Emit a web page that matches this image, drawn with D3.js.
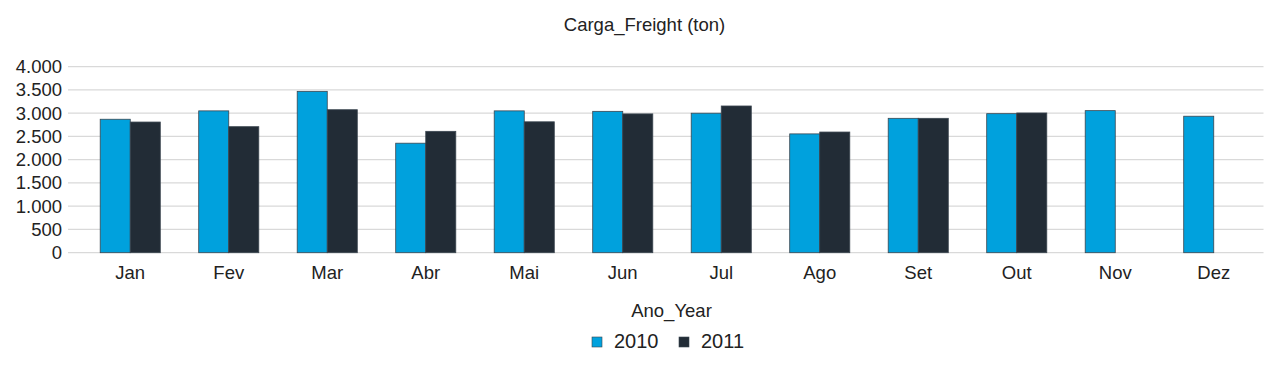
<!DOCTYPE html>
<html><head><meta charset="utf-8">
<script src="https://cdn.jsdelivr.net/npm/d3@7"></script>
<style>body{margin:0;background:#fff}svg{display:block;font-family:"Liberation Sans",Arial,sans-serif}</style>
</head><body><svg id="c" width="1281" height="371"></svg>
<script>
const months = ["Jan","Fev","Mar","Abr","Mai","Jun","Jul","Ago","Set","Out","Nov","Dez"];
const years = ["2010","2011"];
const values2010 = [2870,3050,3470,2355,3050,3040,3000,2555,2890,2990,3055,2935];
const values2011 = [2810,2710,3075,2610,2815,2985,3155,2595,2890,3005,null,null];
const yTicks = [0,500,1000,1500,2000,2500,3000,3500,4000];
const colors = ["#00a1dd","#222c36"];

const svg = d3.select("#c");
const x = d3.scaleBand().domain(months).range([81,1263]).paddingInner(0.39).paddingOuter(0.195);
const xs = d3.scaleBand().domain(years).range([0,x.bandwidth()]);
const y = d3.scaleLinear().domain([0,4000]).range([252.7,66.7]);
const fmt = v => d3.format(",")(v).replace(/,/g,".");

// grid
svg.append("g").selectAll("line").data(yTicks).join("line")
  .attr("x1",68).attr("x2",1263.5).attr("y1",d=>y(d)).attr("y2",d=>y(d))
  .attr("stroke","#d9d9d9").attr("stroke-width",1.3);

// y labels
svg.append("g").selectAll("text").data(yTicks).join("text")
  .attr("x",62).attr("y",d=>y(d)+6.5).attr("text-anchor","end")
  .attr("font-size",18.5).attr("fill","#222").text(fmt);

// bars
const series = [values2010, values2011];
series.forEach((vals,si)=>{
  svg.append("g").selectAll("rect").data(months.map((m,i)=>({m,v:vals[i]})).filter(d=>d.v!=null)).join("rect")
    .attr("x",d=>x(d.m)+xs(years[si]))
    .attr("width",xs.bandwidth())
    .attr("y",d=>y(d.v)).attr("height",d=>y(0)-y(d.v))
    .attr("fill",colors[si]).attr("stroke","#3b4650").attr("stroke-width",0.8);
});

// x labels
svg.append("g").selectAll("text").data(months).join("text")
  .attr("x",d=>x(d)+x.bandwidth()/2).attr("y",279).attr("text-anchor","middle")
  .attr("font-size",18.5).attr("fill","#222").text(d=>d);

// title
svg.append("text").attr("x",644.5).attr("y",31).attr("text-anchor","middle")
  .attr("font-size",18.5).attr("fill","#222").text("Carga_Freight (ton)");
svg.append("text").attr("x",671.5).attr("y",317).attr("text-anchor","middle")
  .attr("font-size",18.5).attr("fill","#222").text("Ano_Year");

// legend
const legX = [592,679];
const lg = svg.append("g").selectAll("g").data(years).join("g")
  .attr("transform",(d,i)=>`translate(${legX[i]},337)`);
lg.append("rect").attr("width",10).attr("height",10).attr("fill",(d,i)=>colors[i]).attr("stroke","#3b4650").attr("stroke-width",0.6);
lg.append("text").attr("x",22).attr("y",10.7).attr("font-size",20).attr("fill","#222").text(d=>d);
</script></body></html>
